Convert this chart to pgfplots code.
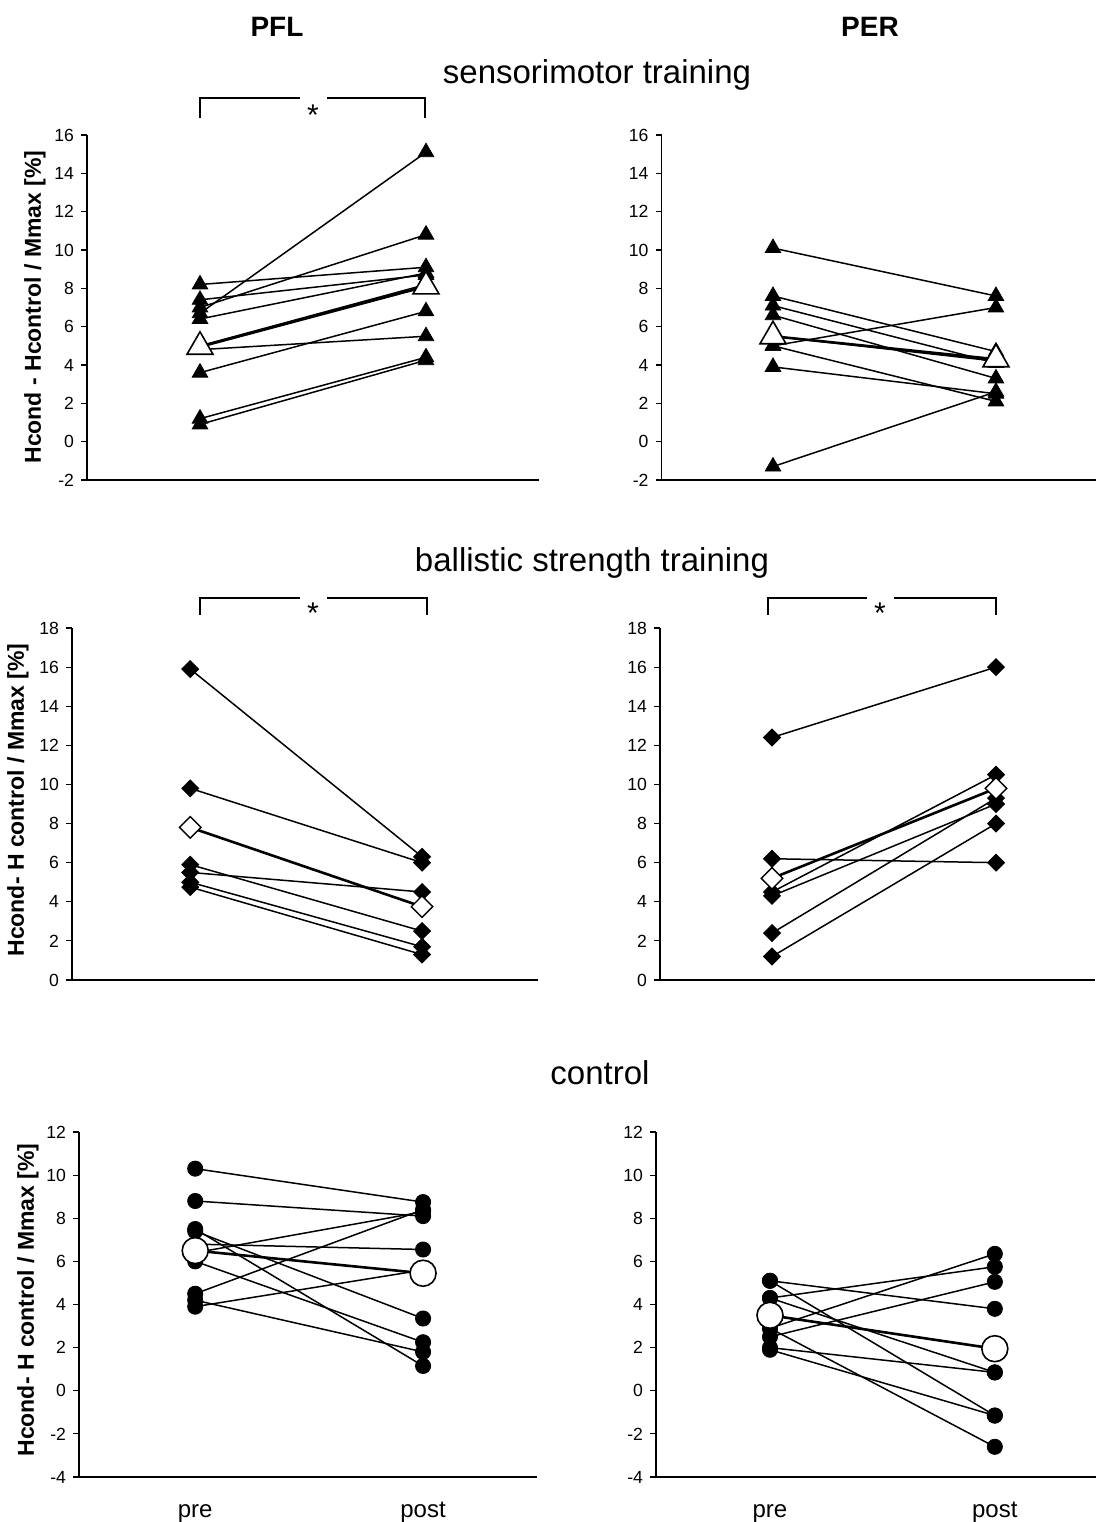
\documentclass[border=0pt]{standalone}
\usepackage{fontspec}
\setmainfont{Liberation Sans}
\usepackage{pgfplots}
\pgfplotsset{compat=1.18}

\pgfplotsset{
  panel/.style={
    scale only axis,
    anchor=south west,
    axis x line=bottom, axis y line=left,
    axis line style={-, line width=0.8pt, black},
    tick align=outside, ytick pos=left,
    major tick length=3pt,
    tick style={line width=0.6pt, black},
    xtick=\empty,
    yticklabel style={font=\fontsize{8.8}{8.8}\selectfont},
    /pgf/number format/assume math mode=true,
    clip=false,
  },
  bottomrow/.style={
    xtick={1,2}, xticklabels={pre,post},
    x tick style={draw=none},
    xticklabel style={font=\fontsize{12}{12}\selectfont, anchor=base, yshift=-17pt},
  },
  subj/.style={black, line width=0.75pt},
  mean/.style={black, line width=1.3pt},
}
\newcommand{\tri}[2]{\addplot[subj, mark=triangle*, mark size=4.5pt, mark options={solid, fill=black, draw=black, line width=0.4pt}] coordinates {(1,#1) (2,#2)};}
\newcommand{\mtri}[2]{\addplot[mean, mark=triangle*, mark size=7.5pt, mark options={solid, fill=white, draw=black, line width=0.8pt}] coordinates {(1,#1) (2,#2)};}
\newcommand{\dia}[2]{\addplot[subj, mark=square*, mark size=3pt, mark options={solid, fill=black, draw=black, line width=0.4pt, rotate=45}] coordinates {(1,#1) (2,#2)};}
\newcommand{\mdia}[2]{\addplot[mean, mark=square*, mark size=3.8pt, mark options={solid, fill=white, draw=black, line width=0.7pt, rotate=45}] coordinates {(1,#1) (2,#2)};}
\newcommand{\cir}[2]{\addplot[subj, mark=*, mark size=3.8pt, mark options={solid, fill=black, draw=black, line width=0.4pt}] coordinates {(1,#1) (2,#2)};}
\newcommand{\mcir}[2]{\addplot[mean, mark=*, mark size=6.5pt, mark options={solid, fill=white, draw=black, line width=0.8pt}] coordinates {(1,#1) (2,#2)};}

\begin{document}
\begin{tikzpicture}[x=1pt,y=1pt]
\useasboundingbox (0,0) rectangle (550,761);

% ---------- sensorimotor, PFL ----------
\begin{axis}[panel, at={(43.5pt,521pt)}, width=226pt, height=172.5pt,
  xmin=0.5, xmax=2.5, ymin=-2, ymax=16, ytick={-2,0,...,16}]
\tri{8.2}{9.1}
\tri{7.4}{8.7}
\tri{7.0}{10.8}
\tri{6.7}{15.1}
\tri{6.4}{8.8}
\tri{5.0}{8.2}
\tri{4.8}{5.5}
\tri{3.6}{6.8}
\tri{1.2}{4.4}
\tri{0.9}{4.25}
\mtri{4.95}{8.1}
\end{axis}

% ---------- sensorimotor, PER ----------
\begin{axis}[panel, at={(330.75pt,521pt)}, width=217.4pt, height=172.5pt,
  xmin=0.5, xmax=2.45, ymin=-2, ymax=16, ytick={-2,0,...,16}]
\tri{10.1}{7.6}
\tri{7.6}{4.7}
\tri{7.1}{4.1}
\tri{6.6}{3.3}
\tri{5.5}{4.2}
\tri{5.0}{7.0}
\tri{5.0}{2.1}
\tri{3.9}{2.5}
\tri{-1.3}{2.6}
\mtri{5.5}{4.3}
\end{axis}

% ---------- ballistic, PFL ----------
\begin{axis}[panel, at={(36pt,271pt)}, width=233pt, height=176pt,
  xmin=0.49, xmax=2.5, ymin=0, ymax=18, ytick={0,2,...,18}]
\dia{15.9}{6.3}
\dia{9.8}{6.0}
\dia{5.9}{2.5}
\dia{5.5}{4.5}
\dia{5.0}{1.7}
\dia{4.75}{1.3}
\mdia{7.8}{3.75}
\end{axis}

% ---------- ballistic, PER ----------
\begin{axis}[panel, at={(330pt,271pt)}, width=217.3pt, height=176pt,
  xmin=0.5, xmax=2.44, ymin=0, ymax=18, ytick={0,2,...,18}]
\dia{12.4}{16.0}
\dia{6.2}{6.0}
\dia{4.5}{10.5}
\dia{4.3}{9.0}
\dia{2.4}{9.3}
\dia{1.2}{8.0}
\mdia{5.2}{9.8}
\end{axis}

% ---------- control, PFL ----------
\begin{axis}[panel, bottomrow, at={(39.5pt,22.5pt)}, width=229pt, height=172.5pt,
  xmin=0.49, xmax=2.5, ymin=-4, ymax=12, ytick={-4,-2,...,12}]
\cir{10.3}{8.75}
\cir{8.8}{8.1}
\cir{7.5}{1.15}
\cir{7.4}{3.35}
\cir{6.8}{6.55}
\cir{6.4}{8.3}
\cir{6.0}{2.25}
\cir{4.5}{8.4}
\cir{4.2}{1.8}
\cir{3.9}{5.6}
\mcir{6.5}{5.45}
\end{axis}

% ---------- control, PER ----------
\begin{axis}[panel, bottomrow, at={(328pt,22.5pt)}, width=220pt, height=172.5pt,
  xmin=0.493, xmax=2.45, ymin=-4, ymax=12, ytick={-4,-2,...,12}]
\cir{5.1}{3.8}
\cir{5.1}{-1.15}
\cir{4.3}{5.75}
\cir{4.3}{0.85}
\cir{3.5}{1.95}
\cir{2.9}{6.35}
\cir{2.5}{5.05}
\cir{2.9}{-2.6}
\cir{2.0}{0.85}
\cir{1.9}{-1.15}
\mcir{3.5}{1.95}
\end{axis}

% ---------- titles ----------
\node[font=\bfseries\fontsize{14}{14}\selectfont] at (138.5,747.5) {PFL};
\node[font=\bfseries\fontsize{14}{14}\selectfont] at (435,747.5) {PER};
\node[font=\fontsize{16.5}{16.5}\selectfont] at (298.5,723.5) {sensorimotor training};
\node[font=\fontsize{16.5}{16.5}\selectfont] at (296,479.5) {ballistic strength training};
\node[font=\fontsize{16.5}{16.5}\selectfont] at (300,224.5) {control};

% ---------- y labels ----------
\node[rotate=90, font=\bfseries\fontsize{11.5}{11.5}\selectfont] at (17.5,607.5) {Hcond - Hcontrol / Mmax [\%]};
\node[rotate=90, font=\bfseries\fontsize{11.5}{11.5}\selectfont] at (9,361) {Hcond- H control / Mmax [\%]};
\node[rotate=90, font=\bfseries\fontsize{11.5}{11.5}\selectfont] at (14,111) {Hcond- H control / Mmax [\%]};

% ---------- significance brackets ----------
\draw[line width=0.6pt] (100,702) -- (100,712) -- (150,712);
\draw[line width=0.6pt] (163.5,712) -- (212.5,712) -- (212.5,702);
\node[anchor=base, font=\fontsize{15}{15}\selectfont, inner sep=0pt] at (156.5,698) {*};

\draw[line width=0.6pt] (100,453.5) -- (100,462) -- (150,462);
\draw[line width=0.6pt] (163.5,462) -- (213.5,462) -- (213.5,453.5);
\node[anchor=base, font=\fontsize{15}{15}\selectfont, inner sep=0pt] at (156.5,449) {*};

\draw[line width=0.6pt] (384,453.5) -- (384,462) -- (433.5,462);
\draw[line width=0.6pt] (447,462) -- (498,462) -- (498,453.5);
\node[anchor=base, font=\fontsize{15}{15}\selectfont, inner sep=0pt] at (440,449) {*};
\end{tikzpicture}
\end{document}
